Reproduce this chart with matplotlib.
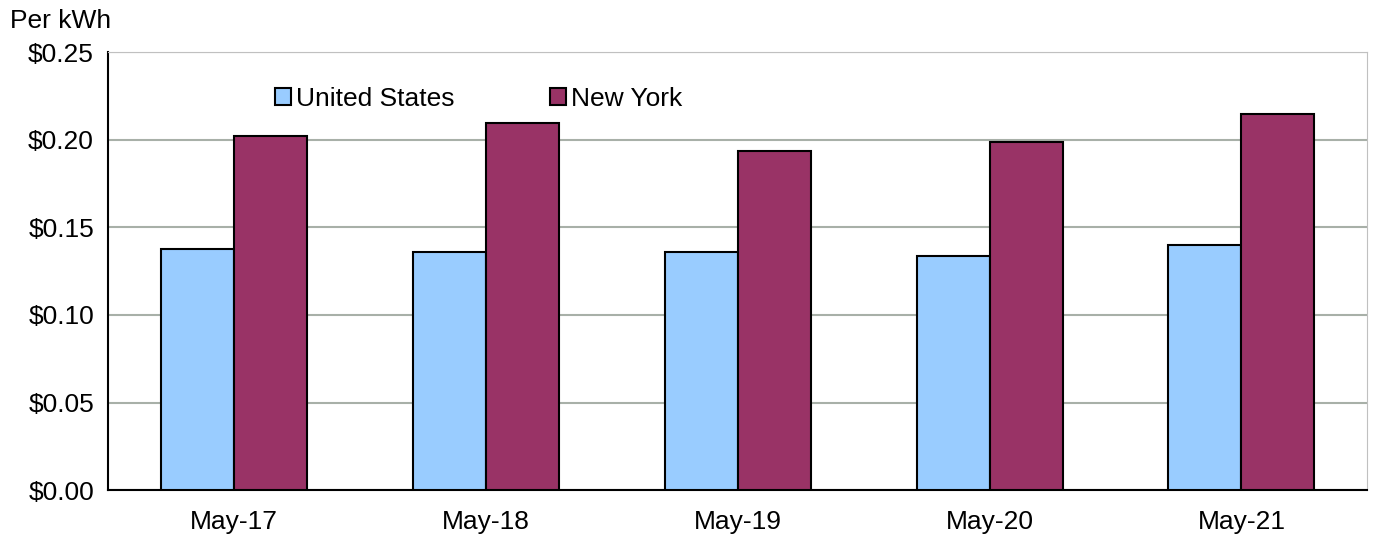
"""Average residential electricity price - US vs New York"""
import matplotlib.pyplot as plt
import numpy as np

plt.rcParams.update({
    'font.family': ['Liberation Sans', 'DejaVu Sans'],
    'font.size': 19,
})

US_BLUE = '#99CCFF'
NY_PLUM = '#993366'

months = ['May-17', 'May-18', 'May-19', 'May-20', 'May-21']
us_price = [0.1375, 0.136, 0.136, 0.1335, 0.1398]
ny_price = [0.202, 0.2095, 0.1935, 0.1986, 0.2146]
yticks = [0.00, 0.05, 0.10, 0.15, 0.20, 0.25]

fig = plt.figure(figsize=(13.84, 5.44), dpi=100)
ax = fig.add_axes([0.078, 0.099, 0.910, 0.805])

x = np.arange(len(months))
w = 0.29
ax.bar(x - w / 2, us_price, w, color=US_BLUE, edgecolor='black', linewidth=1.5,
       label='United States', zorder=3)
ax.bar(x + w / 2, ny_price, w, color=NY_PLUM, edgecolor='black', linewidth=1.5,
       label='New York', zorder=3)

ax.set_xlim(-0.5, len(months) - 0.5)
ax.set_ylim(0, 0.25)
ax.set_yticks(yticks)
ax.set_yticklabels([f'${v:.2f}' for v in yticks])
ax.set_xticks(x)
ax.set_xticklabels(months)
ax.tick_params(axis='x', length=0, pad=14)
ax.tick_params(axis='y', length=0, pad=10)

ax.grid(axis='y', color='#a8b0a8', linewidth=1.5, zorder=0)
for side in ['top', 'right']:
    ax.spines[side].set_color('#c0c0c0')
for side in ['left', 'bottom']:
    ax.spines[side].set_color('black')
    ax.spines[side].set_linewidth(1.5)

fig.text(0.007, 0.94, 'Per kWh', fontsize=19, ha='left', va='bottom')

ax.legend(loc='upper left', bbox_to_anchor=(0.114, 0.975), ncol=2, frameon=False,
          handlelength=0.6, handleheight=0.6, handletextpad=0.2, columnspacing=3.6,
          fontsize=19)

fig.savefig('out.png', dpi=100)
plt.close(fig)
